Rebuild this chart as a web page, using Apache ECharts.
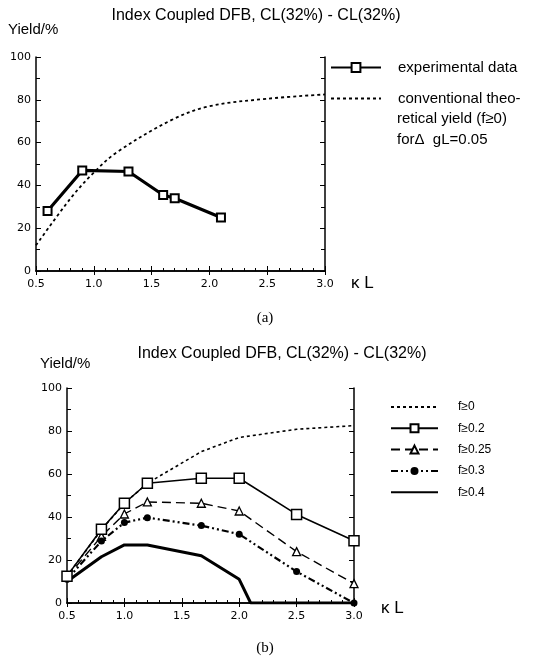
<!DOCTYPE html>
<html><head><meta charset="utf-8">
<script src="https://cdn.jsdelivr.net/npm/echarts@6/dist/echarts.min.js"></script>
<style>html,body{margin:0;padding:0;background:#fff}#c{width:552px;height:660px}</style>
</head><body><div id="c"></div>
<script>
// ---- data (a) ----
const xA_exp = [0.6, 0.9, 1.3, 1.6, 1.7, 2.1];
const yA_exp = [28, 47, 46.5, 35.5, 34, 25];
const xA_conv = [0.5, 0.8, 1.0, 1.2, 1.67, 2.0, 2.5, 3.0];
const yA_conv = [12, 34, 46, 55.5, 70.5, 77, 80.5, 82.5];
// ---- data (b) ----
const xB = [0.5, 0.8, 1.0, 1.2, 1.67, 2.0, 2.5, 3.0];
const yB_f0 = [12.5, 34, 46.4, 55.7, 70.4, 77, 80.8, 82.5];
const yB_f02 = [12.5, 34.3, 46.4, 55.7, 58, 58, 41.2, 29];
const yB_f025 = [12, 31, 41.4, 47, 46.4, 42.8, 23.9, 9];
const yB_f03 = [11, 28.8, 37.4, 39.7, 36, 32, 14.6, 0];
const xB_f04 = [0.5, 0.8, 1.0, 1.2, 1.67, 2.0, 2.1, 2.5, 3.0];
const yB_f04 = [10, 21.5, 27, 27, 22, 11, 0, 0, 0];
// ---- axes / labels ----
const xTicks = [0.5, 1.0, 1.5, 2.0, 2.5, 3.0];
const yTicks = [0, 20, 40, 60, 80, 100];
const titleText = 'Index Coupled DFB, CL(32%) - CL(32%)';
const legendA = ['experimental data', 'conventional theo-'];
const legendAExtra = ['retical yield (f\u22650)', 'for\u0394  gL=0.05'];
const legendB = ['f\u22650', 'f\u22650.2', 'f\u22650.25', 'f\u22650.3', 'f\u22650.4'];

const pairs = (xs, ys) => xs.map((x, i) => [x, ys[i]]);
const tickFont = { fontFamily: 'DejaVu Sans', fontSize: 11, color: '#000' };
const clear = 'rgba(0,0,0,0)';

function xAxes() {
  return [{
    type: 'value', min: xTicks[0], max: xTicks[xTicks.length - 1], interval: 0.5,
    axisLine: { lineStyle: { color: '#000', width: 1.5 } },
    axisTick: { inside: true, length: 5, lineStyle: { color: '#000' } },
    minorTick: { show: true, splitNumber: 5, length: 3, lineStyle: { color: '#000' } },
    splitLine: { show: false },
    axisLabel: Object.assign({ margin: 8, formatter: v => v.toFixed(1) }, tickFont)
  }, {
    type: 'value', position: 'top', min: xTicks[0], max: xTicks[xTicks.length - 1], interval: 0.5,
    axisLine: { lineStyle: { color: '#000', width: 1.5 } },
    axisTick: { inside: true, length: 4, lineStyle: { color: '#000' } },
    splitLine: { show: false }, axisLabel: { show: false }
  }];
}
function yAxes() {
  return [{
    type: 'value', min: yTicks[0], max: yTicks[yTicks.length - 1], interval: 20,
    axisLine: { show: true, lineStyle: { color: '#000', width: 1.5 } },
    axisTick: { show: true, inside: true, length: 5, lineStyle: { color: '#000' } },
    minorTick: { show: true, splitNumber: 2, length: 4, lineStyle: { color: '#000' } },
    splitLine: { show: false },
    axisLabel: Object.assign({ margin: 5 }, tickFont)
  }, {
    type: 'value', position: 'right', min: yTicks[0], max: yTicks[yTicks.length - 1], interval: 20,
    axisLine: { show: true, lineStyle: { color: '#000', width: 1.5 } },
    axisTick: { show: true, inside: true, length: 5, lineStyle: { color: '#000' } },
    minorTick: { show: true, splitNumber: 2, length: 4, lineStyle: { color: '#000' } },
    splitLine: { show: false }, axisLabel: { show: false }
  }];
}

const chart = echarts.init(document.getElementById('c'), null, { renderer: 'canvas' });
const txt = (x, y, text, size, extra) => ({
  type: 'text', x: x, y: y,
  style: Object.assign({ text: text, fill: '#000', fontFamily: 'Liberation Sans', fontSize: size, textVerticalAlign: 'middle' }, extra || {})
});

chart.setOption({
  backgroundColor: '#fff',
  animation: false,
  grid: [
    { left: 36, width: 289, top: 57, height: 214 },
    { left: 67, width: 287, top: 388, height: 215 }
  ],
  xAxis: [...xAxes(), ...xAxes()].map((a, i) => Object.assign(a, { gridIndex: i < 2 ? 0 : 1 })),
  yAxis: [...yAxes(), ...yAxes()].map((a, i) => Object.assign(a, { gridIndex: i < 2 ? 0 : 1 })),
  legend: [
    { data: [legendA[0]], left: 325, top: 55, itemWidth: 50, itemHeight: 11,
      textStyle: { fontFamily: 'Liberation Sans', fontSize: 15, color: '#000', padding: [0, 0, 0, 12] } },
    { data: [legendA[1]], left: 325, top: 86, itemWidth: 50, itemHeight: 11,
      textStyle: { fontFamily: 'Liberation Sans', fontSize: 15, color: '#000', padding: [0, 0, 0, 12] } },
    { data: legendB, orient: 'vertical', left: 385, top: 396, itemWidth: 47, itemHeight: 10, itemGap: 9.3,
      textStyle: { fontFamily: 'Liberation Sans', fontSize: 12, color: '#000', padding: [0, 0, 0, 15] } }
  ],
  series: [
    { name: legendA[1], type: 'line', xAxisIndex: 0, yAxisIndex: 0, data: pairs(xA_conv, yA_conv),
      smooth: 0.35, symbol: 'none', itemStyle: { color: clear },
      lineStyle: { color: '#000', width: 1.8, type: [3, 3] }, z: 2 },
    { name: legendA[0], type: 'line', xAxisIndex: 0, yAxisIndex: 0, data: pairs(xA_exp, yA_exp),
      symbol: 'rect', symbolSize: 8, itemStyle: { color: '#fff', borderColor: '#000', borderWidth: 2 },
      lineStyle: { color: '#000', width: 3.2 }, z: 3 },

    { name: legendB[0], type: 'line', xAxisIndex: 2, yAxisIndex: 2, data: pairs(xB, yB_f0),
      symbol: 'none', itemStyle: { color: clear },
      lineStyle: { color: '#000', width: 1.6, type: [3, 3] } },
    { name: legendB[1], type: 'line', xAxisIndex: 2, yAxisIndex: 2, data: pairs(xB, yB_f02),
      symbol: 'rect', symbolSize: 10, itemStyle: { color: '#fff', borderColor: '#000', borderWidth: 1.5 },
      lineStyle: { color: '#000', width: 1.6 }, z: 5 },
    { name: legendB[2], type: 'line', xAxisIndex: 2, yAxisIndex: 2, data: pairs(xB, yB_f025),
      symbol: 'triangle', symbolSize: 8, itemStyle: { color: '#fff', borderColor: '#000', borderWidth: 1.3 },
      lineStyle: { color: '#000', width: 1.4, type: [9, 5] }, z: 4 },
    { name: legendB[3], type: 'line', xAxisIndex: 2, yAxisIndex: 2, data: pairs(xB, yB_f03),
      symbol: 'circle', symbolSize: 7, itemStyle: { color: '#000' },
      lineStyle: { color: '#000', width: 2.2, type: [7, 3, 2, 3, 2, 3] }, z: 4 },
    { name: legendB[4], type: 'line', xAxisIndex: 2, yAxisIndex: 2, data: pairs(xB_f04, yB_f04),
      symbol: 'none', itemStyle: { color: clear },
      lineStyle: { color: '#000', width: 3 }, z: 3 }
  ],
  graphic: [
    txt(256, 16, titleText, 16, { textAlign: 'center' }),
    txt(8, 30, 'Yield/%', 15),
    txt(351, 283, '\u03ba L', 17),
    txt(265, 318, '(a)', 15, { fontFamily: 'Liberation Serif', textAlign: 'center' }),
    txt(397, 119, legendAExtra[0], 15),
    txt(397, 140, legendAExtra[1], 15),

    txt(282, 354, titleText, 16, { textAlign: 'center' }),
    txt(40, 364, 'Yield/%', 15),
    txt(381, 608, '\u03ba L', 17),
    txt(265, 648, '(b)', 15, { fontFamily: 'Liberation Serif', textAlign: 'center' })
  ]
});
</script></body></html>
